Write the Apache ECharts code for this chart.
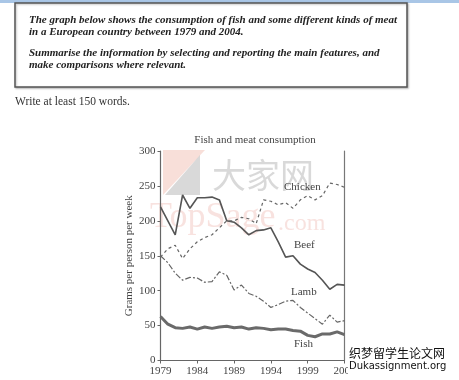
<!DOCTYPE html>
<html><head><meta charset="utf-8">
<script src="https://cdn.jsdelivr.net/npm/echarts@6/dist/echarts.min.js"></script>
<style>html,body{margin:0;padding:0;background:#fff;}#c{width:459px;height:380px;}</style>
</head><body><div id="c"></div>
<script>
var years = [];
for (var y = 1979; y <= 2004; y++) years.push(String(y));
var beef    = [220,200,180,237,218,233,233,234,230,200,198,190,180,186,187,190,170,148,150,138,131,126,115,102,109,108];
var chicken = [148,160,165,146,160,170,176,180,190,200,200,205,203,196,230,228,223,226,218,230,236,230,236,254,252,248];
var lamb    = [150,140,125,115,119,118,112,113,127,122,101,108,96,92,85,76,80,85,86,76,68,60,52,65,55,57];
var fish    = [63,52,47,46,48,45,48,46,48,49,47,48,45,47,46,44,45,45,43,42,36,34,38,38,41,37];
var yTicks  = [0,50,100,150,200,250,300];

var serif = '"Liberation Serif", "DejaVu Serif", serif';
var chart = echarts.init(document.getElementById('c'), null, {renderer:'canvas'});
function line(name, data, w, type, color){
  return {name:name, type:'line', data:data, symbol:'none', smooth:false, z:3,
    lineStyle:{width:w, type:type, color:color}};
}
chart.setOption({
  animation:false,
  backgroundColor:'#fff',
  title:{text:'Fish and meat consumption', left:250, top:130, textAlign:'center',
    textStyle:{fontFamily:serif, fontSize:11, fontWeight:'normal', color:'#444'}},
  grid:{left:160.5, right:114.5, top:151, bottom:19.5},
  xAxis:{type:'category', data:years, boundaryGap:false,
    axisLine:{lineStyle:{color:'#666', width:1.2}},
    axisTick:{interval:4, length:3, lineStyle:{color:'#666'}},
    axisLabel:{interval:4, fontFamily:serif, fontSize:11, color:'#444', margin:5},
    splitLine:{show:false}},
  yAxis:[{type:'value', min:0, max:300, interval:50,
    name:'Grams per person per week', nameLocation:'middle', nameGap:26, nameRotate:90,
    nameTextStyle:{fontFamily:serif, fontSize:11, color:'#444'},
    axisLine:{show:true, lineStyle:{color:'#666', width:1.2}},
    axisTick:{show:true, length:3, lineStyle:{color:'#666'}},
    axisLabel:{fontFamily:serif, fontSize:11, color:'#444', margin:5,
      formatter:function(v){return yTicks.indexOf(v)>=0? String(v):'';}},
    splitLine:{show:false}},
   {type:'value', min:0, max:300, position:'right',
    axisLine:{show:true, lineStyle:{color:'#777', width:1.2}},
    axisTick:{show:false}, axisLabel:{show:false}, splitLine:{show:false}}],
  series:[
    line('Beef', beef, 1.6, 'solid', '#555'),
    line('Chicken', chicken, 1.2, [3,3], '#666'),
    line('Lamb', lamb, 1.2, [6,2,2,2], '#666'),
    line('Fish', fish, 3, 'solid', '#6a6a6a')
  ],
  graphic:[
    {type:'rect', shape:{x:0,y:0,width:459,height:3}, style:{fill:'#a9c6e6'}, z:1},
    {type:'rect', shape:{x:15,y:3,width:392,height:84}, style:{fill:'#fff', stroke:'#555', lineWidth:1.5,
      shadowColor:'rgba(0,0,0,0.25)', shadowBlur:2, shadowOffsetX:1, shadowOffsetY:1}, z:1},
    {type:'text', x:29, y:15, style:{text:'The graph below shows the consumption of fish and some different kinds of meat', font:'italic bold 11px '+serif, fill:'#222'}, z:2},
    {type:'text', x:29, y:27, style:{text:'in a European country between 1979 and 2004.', font:'italic bold 11px '+serif, fill:'#222'}, z:2},
    {type:'text', x:29, y:48, style:{text:'Summarise the information by selecting and reporting the main features, and', font:'italic bold 11px '+serif, fill:'#222'}, z:2},
    {type:'text', x:29, y:60, style:{text:'make comparisons where relevant.', font:'italic bold 11px '+serif, fill:'#222'}, z:2},
    {type:'text', x:15, y:96, style:{text:'Write at least 150 words.', font:'11.5px '+serif, fill:'#333'}, z:2},
    /* watermarks */
    {type:'polygon', shape:{points:[[163,150],[205,150],[163,195]]}, style:{fill:'rgba(232,150,130,0.3)'}, z:0},
    {type:'polygon', shape:{points:[[200,155],[200,195],[165,195]]}, style:{fill:'rgba(130,130,130,0.3)'}, z:0},
    {type:'text', x:212, y:158, style:{text:'大家网', font:'34px "Noto Sans CJK SC", sans-serif', fill:'rgba(120,120,120,0.28)'}, z:0},
    {type:'text', x:150, y:200, style:{text:'TopSage', font:'36px '+serif, fill:'rgba(232,160,150,0.3)'}, z:0},
    {type:'text', x:278, y:212, style:{text:'.com', font:'24px '+serif, fill:'rgba(232,160,150,0.3)'}, z:0},
    /* series labels */
    {type:'text', x:284, y:182, style:{text:'Chicken', font:'11px '+serif, fill:'#444'}, z:5},
    {type:'text', x:294, y:240, style:{text:'Beef', font:'11px '+serif, fill:'#444'}, z:5},
    {type:'text', x:291, y:287, style:{text:'Lamb', font:'11px '+serif, fill:'#444'}, z:5},
    {type:'text', x:294, y:339, style:{text:'Fish', font:'11px '+serif, fill:'#444'}, z:5},
    /* bottom-right watermark */
    {type:'rect', shape:{x:348,y:346,width:111,height:28}, style:{fill:'#fff'}, z:6},
    {type:'text', x:349, y:347, style:{text:'织梦留学生论文网', font:'12px "Noto Sans CJK SC", sans-serif', fill:'#111'}, z:7},
    {type:'text', x:349, y:361, style:{text:'Dukassignment.org', font:'10px "DejaVu Sans", sans-serif', fill:'#111'}, z:7}
  ]
});
</script></body></html>
